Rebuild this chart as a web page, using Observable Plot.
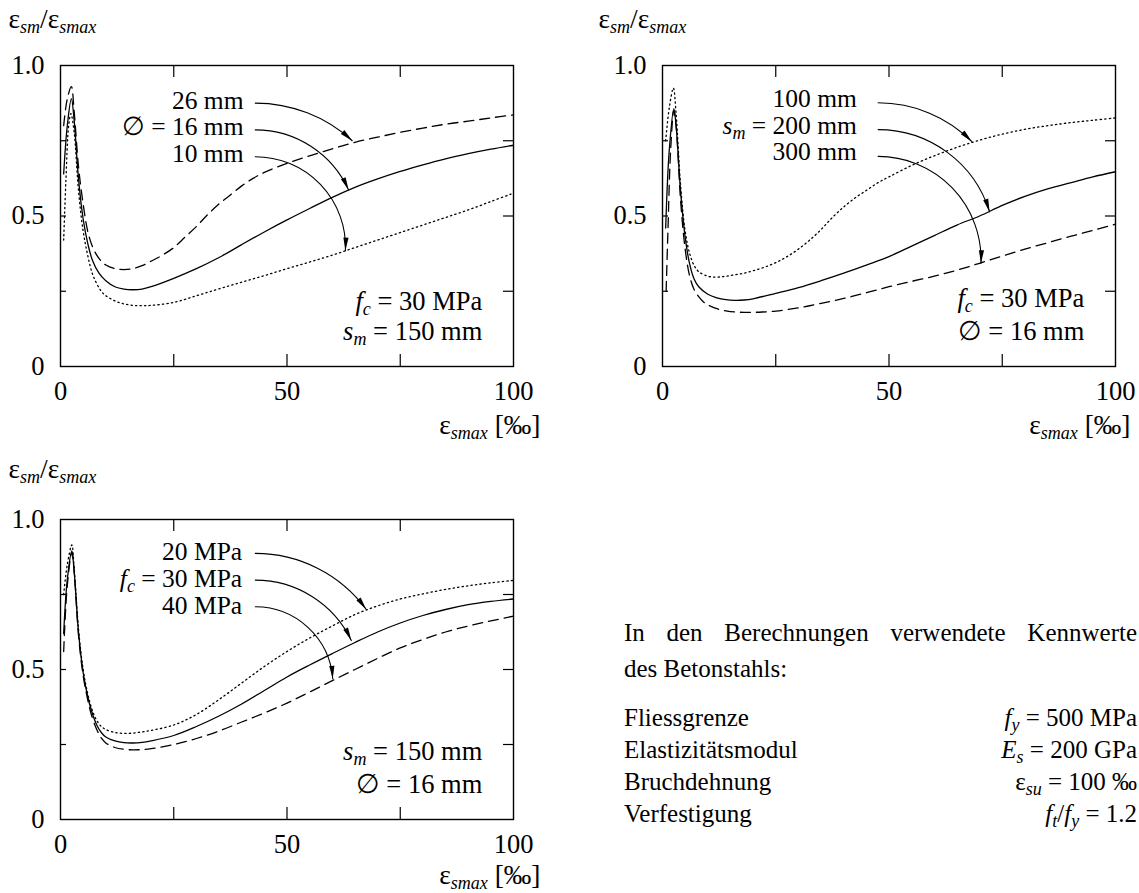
<!DOCTYPE html>
<html><head><meta charset="utf-8">
<script src="https://cdn.jsdelivr.net/npm/d3@7"></script>
<script src="https://cdn.jsdelivr.net/npm/@observablehq/plot@0.6"></script>
<style>
html,body{margin:0;padding:0;background:#fff;}
#root{position:relative;width:1139px;height:893px;overflow:hidden;background:#fff;}
#root svg{position:absolute;}
</style></head><body><div id="root"></div>
<script>
const FONT = '"Liberation Serif","Times New Roman",serif';
const FS = 26.5;      // tick labels and notes
const FS_LAB = 25.5;  // stacked arrow labels
const FS_TITLE = 27.5;  // axis titles

// ---- axis ticks ----
const xTicks = [25, 50, 75];
const yTicks = [0.25, 0.5, 0.75];
const xTickLabels = [0, 50, 100];
const yTickLabels = [0, 0.5, 1];
const yAxisTitle = "ε<sub>sm</sub>/ε<sub>smax</sub>";
const xAxisTitle = "ε<sub>smax</sub> [‰]";

// ---- panel 1: bar diameter ----
const p1_d26 = [[0.7,0.80],[1.5,0.89],[2.4,0.93],[3,0.85],[4,0.66],[5,0.54],[6,0.45],[7,0.40],[8,0.37],[9,0.35],[10,0.337],[12,0.325],[14,0.322],[16,0.325],[18,0.335],[20,0.35],[22.5,0.37],[25,0.395],[27.5,0.43],[30,0.465],[32.5,0.505],[35,0.54],[37.5,0.57],[40,0.60],[42.5,0.625],[45,0.645],[50,0.675],[55,0.70],[60,0.723],[65,0.745],[70,0.762],[75,0.778],[80,0.792],[85,0.805],[90,0.815],[95,0.826],[100,0.836]];
const p1_d16 = [[0.7,0.64],[1.5,0.80],[2.4,0.89],[3,0.82],[4,0.62],[5,0.49],[6,0.41],[7,0.355],[8.5,0.31],[10,0.285],[12,0.265],[14,0.257],[16,0.255],[18,0.257],[20,0.265],[25,0.293],[30,0.325],[35,0.362],[40,0.405],[45,0.447],[50,0.487],[55,0.525],[60,0.562],[65,0.595],[70,0.623],[75,0.648],[80,0.67],[85,0.69],[90,0.707],[95,0.722],[100,0.735]];
const p1_d10 = [[0.7,0.42],[1.2,0.62],[1.8,0.80],[2.3,0.84],[3,0.78],[4,0.58],[5,0.45],[6,0.37],[7,0.31],[8,0.275],[9,0.25],[10,0.235],[12,0.218],[14,0.208],[16,0.203],[18,0.202],[20,0.203],[25,0.213],[30,0.235],[35,0.258],[40,0.28],[45,0.302],[50,0.325],[55,0.347],[60,0.37],[65,0.395],[70,0.42],[75,0.445],[80,0.47],[85,0.495],[90,0.52],[95,0.548],[100,0.576]];
const p1_labels = ["26 mm", "∅ = 16 mm", "10 mm"];
const p1_labelY = [0.857, 0.768, 0.68];
const p1_arrowStart = [[43,0.875],[43,0.786],[43,0.697]];
const p1_arrowEnd = [[64.4,0.75],[63.6,0.586],[62.9,0.385]];
const p1_notes = ["<i>f</i><sub>c</sub> = 30 MPa", "<i>s</i><sub>m</sub> = 150 mm"];
const p1_noteY = [0.188, 0.088];

// ---- panel 2: crack spacing ----
const p2_s100 = [[0.7,0.75],[1.5,0.86],[2.4,0.925],[3,0.84],[4,0.6],[5,0.45],[6,0.375],[7,0.335],[8,0.315],[10,0.3],[12,0.297],[14,0.3],[16,0.305],[18,0.31],[20,0.318],[22.5,0.33],[25,0.345],[27.5,0.365],[30,0.39],[32.5,0.42],[35,0.455],[37.5,0.495],[40,0.53],[42.5,0.56],[45,0.585],[47.5,0.61],[50,0.63],[55,0.668],[60,0.70],[65,0.728],[70,0.752],[75,0.772],[80,0.788],[85,0.80],[90,0.81],[95,0.818],[100,0.826]];
const p2_s200 = [[0.7,0.46],[1.5,0.72],[2.5,0.857],[3,0.80],[4,0.58],[5,0.43],[6,0.34],[7,0.29],[8,0.265],[10,0.24],[12,0.228],[14,0.222],[16,0.22],[18,0.221],[20,0.225],[25,0.243],[30,0.262],[35,0.285],[40,0.31],[45,0.337],[50,0.365],[55,0.40],[60,0.435],[65,0.47],[70,0.50],[75,0.535],[80,0.565],[85,0.59],[90,0.61],[95,0.63],[100,0.647]];
const p2_s300 = [[0.8,0.25],[1.2,0.45],[1.8,0.72],[2.5,0.85],[3,0.80],[4,0.55],[5,0.39],[6,0.30],[7,0.255],[8,0.232],[9,0.215],[10,0.205],[12,0.192],[14,0.185],[16,0.181],[18,0.18],[20,0.18],[22,0.181],[25,0.184],[30,0.195],[35,0.21],[40,0.226],[45,0.245],[50,0.265],[55,0.283],[60,0.30],[65,0.32],[70,0.343],[75,0.367],[80,0.39],[85,0.411],[90,0.432],[95,0.452],[100,0.473]];
const p2_labels = ["100 mm", "<i>s</i><sub>m</sub> = 200 mm", "300 mm"];
const p2_labelY = [0.863, 0.774, 0.686];
const p2_arrowStart = [[47.6,0.876],[47.6,0.787],[47.6,0.698]];
const p2_arrowEnd = [[68.3,0.747],[72.2,0.514],[70.3,0.343]];
const p2_notes = ["<i>f</i><sub>c</sub> = 30 MPa", "∅ = 16 mm"];
const p2_noteY = [0.199, 0.089];

// ---- panel 3: concrete strength ----
const p3_f20 = [[0.7,0.75],[1.5,0.85],[2.5,0.915],[3,0.84],[4,0.63],[5,0.50],[6,0.42],[7,0.365],[8,0.33],[9,0.31],[10,0.30],[12,0.29],[14,0.287],[16,0.288],[18,0.292],[20,0.297],[25,0.315],[30,0.35],[35,0.40],[40,0.455],[45,0.51],[50,0.56],[55,0.605],[60,0.645],[65,0.683],[70,0.712],[75,0.735],[80,0.752],[85,0.767],[90,0.779],[95,0.789],[100,0.797]];
const p3_f30 = [[0.7,0.62],[1.5,0.80],[2.5,0.895],[3,0.83],[4,0.62],[5,0.49],[6,0.41],[7,0.355],[8,0.315],[9,0.29],[10,0.275],[12,0.262],[14,0.256],[16,0.255],[18,0.257],[20,0.262],[25,0.28],[30,0.31],[35,0.345],[40,0.385],[45,0.43],[50,0.475],[55,0.515],[60,0.553],[65,0.59],[70,0.625],[75,0.655],[80,0.68],[85,0.70],[90,0.716],[95,0.727],[100,0.735]];
const p3_f40 = [[0.7,0.56],[1.5,0.78],[2.5,0.89],[3,0.83],[4,0.61],[5,0.48],[6,0.40],[7,0.34],[8,0.30],[9,0.272],[10,0.255],[12,0.24],[14,0.234],[16,0.232],[18,0.233],[20,0.236],[25,0.25],[30,0.27],[35,0.295],[40,0.325],[45,0.355],[50,0.388],[55,0.425],[60,0.463],[65,0.50],[70,0.537],[75,0.572],[80,0.60],[85,0.625],[90,0.645],[95,0.662],[100,0.678]];
const p3_labels = ["20 MPa", "<i>f</i><sub>c</sub> = 30 MPa", "40 MPa"];
const p3_labelY = [0.864, 0.775, 0.684];
const p3_arrowStart = [[43,0.887],[43,0.798],[43,0.709]];
const p3_arrowEnd = [[67.5,0.70],[64.2,0.597],[60.1,0.469]];
const p3_notes = ["<i>s</i><sub>m</sub> = 150 mm", "∅ = 16 mm"];
const p3_noteY = [0.198, 0.087];

// ---- steel properties text ----
const introLines = ["In den Berechnungen verwendete Kennwerte", "des Betonstahls:"];
const propNames = ["Fliessgrenze", "Elastizitätsmodul", "Bruchdehnung", "Verfestigung"];
const propValues = ["<i>f</i><sub>y</sub> = 500 MPa", "<i>E</i><sub>s</sub> = 200 GPa", "ε<sub>su</sub> = 100 ‰", "<i>f</i><sub>t</sub>/<i>f</i><sub>y</sub> = 1.2"];

const STYLES = {
  solid: {strokeDasharray: null},
  dashed: {strokeDasharray: "10,6"},
  dotted: {strokeDasharray: "1.3,3.2"}
};

function richify(root) {
  d3.select(root).selectAll("text").each(function() {
    const s = this.textContent;
    if (!/<(i|sub)>/.test(s)) return;
    const el = d3.select(this);
    const fs = parseFloat(el.attr("font-size")) || parseFloat(getComputedStyle(this).fontSize) || 25;
    el.text(null);
    const shift = 0.2 * fs;
    let down = false;
    for (const part of s.split(/(<i>.*?<\/i>|<sub>.*?<\/sub>)/)) {
      if (!part) continue;
      const ms = part.match(/^<sub>(.*)<\/sub>$/);
      if (ms) {
        const t = el.append("tspan").text(ms[1]).attr("font-style", "italic").attr("font-size", 0.72 * fs);
        if (!down) { t.attr("dy", shift); down = true; }
        continue;
      }
      const mi = part.match(/^<i>(.*)<\/i>$/);
      const t = el.append("tspan").text(mi ? mi[1] : part);
      if (mi) t.attr("font-style", "italic");
      if (down) { t.attr("dy", -shift); down = false; }
    }
  });
}

function panel(cfg) {
  const {left, top, w, h, mL, mT, mR, mB, series, labels, labelY, labelX, arrowStart, arrowEnd, notes, noteY, ylabDx, ylabDy, xlabDx, xlabDy} = cfg;
  const pw = w - mL - mR, ph = h - mT - mB;
  const tX = 12 / ph, tL = 6 * 100 / pw, tR = 10 * 100 / pw;
  const arrowMarks = [];
  arrowStart.forEach((a, i) => {
    const b = arrowEnd[i];
    const chord = Math.atan2((a[1] - b[1]) * ph, (b[0] - a[0]) * pw / 100) * 180 / Math.PI;
    arrowMarks.push(Plot.arrow([0], {x1: a[0], y1: a[1], x2: b[0], y2: b[1], bend: chord, stroke: "#000", strokeWidth: 1.1, headLength: 0}));
    arrowMarks.push(Plot.vector([0], {x: b[0], y: b[1], length: 13, r: 2.6, rotate: 2 * chord + 90, anchor: "end", shape: "spike", fill: "#000", stroke: "none"}));
  });
  const marks = [
    Plot.ruleX(xTicks, {x: d => d, y1: 0, y2: tX, stroke: "#000", strokeWidth: 1.2}),
    Plot.ruleX(xTicks, {x: d => d, y1: 1, y2: 1 - tX, stroke: "#000", strokeWidth: 1.2}),
    Plot.ruleY(yTicks, {y: d => d, x1: 0, x2: tL, stroke: "#000", strokeWidth: 1.2}),
    Plot.ruleY(yTicks, {y: d => d, x1: 100, x2: 100 - tR, stroke: "#000", strokeWidth: 1.2}),
    Plot.axisX({ticks: xTickLabels, tickSize: 0, tickPadding: 15, fontSize: FS, tickFormat: d => String(d), label: null}),
    Plot.axisY({ticks: yTickLabels, tickSize: 0, tickPadding: 16, fontSize: FS, tickFormat: d => d === 0 ? "0" : d.toFixed(1), label: null}),
    ...series.map(s => Plot.line(s.data, {x: d => d[0], y: d => d[1], curve: "catmull-rom", stroke: "#000", strokeWidth: 1.3, ...STYLES[s.style]})),
    ...arrowMarks,
    Plot.text(labels, {x: labelX, y: (d, i) => labelY[i], text: d => d, textAnchor: "end", lineAnchor: "bottom", fontSize: FS_LAB, fill: "#000"}),
    Plot.text(notes, {x: 93.1, y: (d, i) => noteY[i], text: d => d, textAnchor: "end", lineAnchor: "bottom", fontSize: FS, fill: "#000"}),
    Plot.text([yAxisTitle], {frameAnchor: "top-left", dx: ylabDx, dy: ylabDy, text: d => d, textAnchor: "start", lineAnchor: "bottom", fontSize: FS_TITLE, fill: "#000"}),
    Plot.text([xAxisTitle], {frameAnchor: "bottom-right", dx: xlabDx, dy: xlabDy, text: d => d, textAnchor: "end", lineAnchor: "bottom", fontSize: FS_TITLE, fill: "#000"}),
    Plot.frame({stroke: "#000", strokeWidth: 1.4})
  ];
  const svg = Plot.plot({
    width: w, height: h, marginLeft: mL, marginTop: mT, marginRight: mR, marginBottom: mB,
    x: {domain: [0, 100]}, y: {domain: [0, 1]},
    style: {fontFamily: FONT, fontSize: FS + "px", background: "transparent", color: "#000", overflow: "visible"},
    marks
  });
  svg.style.left = left + "px";
  svg.style.top = top + "px";
  richify(svg);
  return svg;
}

const root = document.getElementById("root");

root.appendChild(panel({
  left: 0, top: 0, w: 560, h: 445, mL: 60, mT: 65, mR: 47, mB: 79,
  series: [{data: p1_d26, style: "dashed"}, {data: p1_d16, style: "solid"}, {data: p1_d10, style: "dotted"}],
  labels: p1_labels, labelY: p1_labelY, labelX: 40.4,
  arrowStart: p1_arrowStart, arrowEnd: p1_arrowEnd,
  notes: p1_notes, noteY: p1_noteY,
  ylabDx: -52, ylabDy: -38, xlabDx: 27, xlabDy: 67
}));

root.appendChild(panel({
  left: 602, top: 0, w: 537, h: 445, mL: 60, mT: 65, mR: 24, mB: 79,
  series: [{data: p2_s100, style: "dotted"}, {data: p2_s200, style: "solid"}, {data: p2_s300, style: "dashed"}],
  labels: p2_labels, labelY: p2_labelY, labelX: 42.9,
  arrowStart: p2_arrowStart, arrowEnd: p2_arrowEnd,
  notes: p2_notes, noteY: p2_noteY,
  ylabDx: -64, ylabDy: -38, xlabDx: 15, xlabDy: 67
}));

root.appendChild(panel({
  left: 0, top: 454, w: 560, h: 439, mL: 60, mT: 65, mR: 47, mB: 74,
  series: [{data: p3_f20, style: "dotted"}, {data: p3_f30, style: "solid"}, {data: p3_f40, style: "dashed"}],
  labels: p3_labels, labelY: p3_labelY, labelX: 40.1,
  arrowStart: p3_arrowStart, arrowEnd: p3_arrowEnd,
  notes: p3_notes, noteY: p3_noteY,
  ylabDx: -52, ylabDy: -42, xlabDx: 27, xlabDy: 64
}));

// ---- text block ----
const tb = d3.select(root).append("svg")
  .attr("width", 1139).attr("height", 893)
  .style("left", "0px").style("top", "0px")
  .attr("font-family", FONT).attr("font-size", 25).attr("fill", "#000");
const TB_LEFT = 624, TB_RIGHT = 1137, TB_JUST = 1137;
const introBase = [641, 677];
const rowBase = [726, 758, 790, 822];
introLines.forEach((t, i) => {
  const el = tb.append("text").attr("x", TB_LEFT).attr("y", introBase[i]).text(t);
  if (i === 0) {
    const nat = el.node().getComputedTextLength();
    const spaces = t.split(" ").length - 1;
    el.attr("word-spacing", (TB_JUST - TB_LEFT - nat) / spaces);
  }
});
propNames.forEach((t, i) => tb.append("text").attr("x", TB_LEFT).attr("y", rowBase[i]).text(t));
propValues.forEach((t, i) => tb.append("text").attr("x", TB_RIGHT).attr("y", rowBase[i]).attr("text-anchor", "end").attr("font-size", 25).text(t));
richify(tb.node());
</script></body></html>
